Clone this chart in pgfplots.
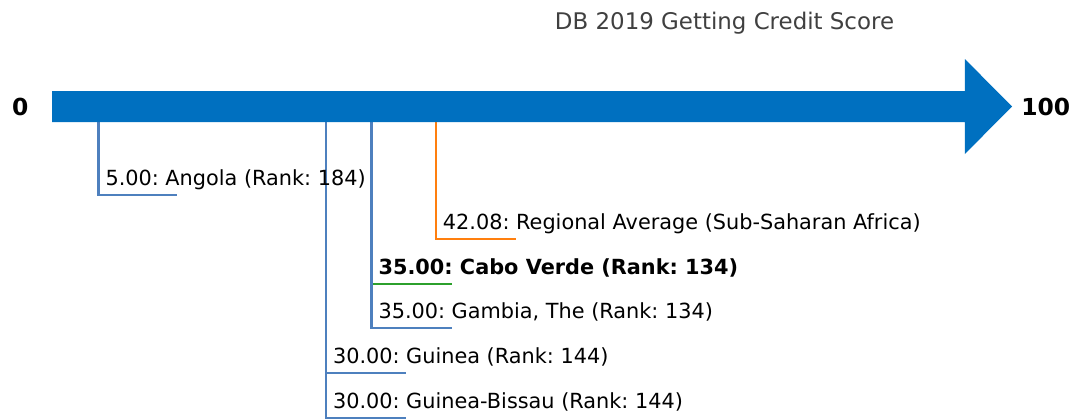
\documentclass[border=0pt]{standalone}
\usepackage{fontspec}
\setmainfont{DejaVu Sans}
\usepackage{pgfplots}
\pgfplotsset{compat=1.18}
\definecolor{barblue}{RGB}{0,112,192}
\definecolor{lineblue}{RGB}{78,128,190}
\definecolor{lineorange}{RGB}{255,127,14}
\definecolor{linegreen}{RGB}{44,160,44}
\definecolor{titlegray}{RGB}{64,64,64}
\tikzset{lbl/.style={font=\fontsize{20.9}{24}\selectfont, inner sep=0pt, anchor=base west}}
\frenchspacing
\begin{document}
\frenchspacing
\begin{tikzpicture}
\begin{axis}[
  scale only axis, width=1075bp, height=420bp,
  xmin=-5.824, xmax=112.31, ymin=0, ymax=420,
  y dir=reverse, hide axis, clip=false,
]
\path (rel axis cs:0,0) rectangle (rel axis cs:1,1);
% leader lines
\addplot[lineblue, line width=2.8bp] coordinates {(5,122) (5,195) (13.65,195)};
\addplot[lineorange, line width=2.8bp] coordinates {(42.08,122) (42.08,239) (50.88,239)};
\addplot[linegreen, line width=2.8bp] coordinates {(35,122) (35,284) (43.8,284)};
\addplot[lineblue, line width=2.8bp] coordinates {(35,122) (35,328) (43.8,328)};
\addplot[lineblue, line width=2.8bp] coordinates {(30,122) (30,373) (38.8,373)};
\addplot[lineblue, line width=2.8bp] coordinates {(30,122) (30,418) (38.8,418)};
% arrow
\addplot[fill=barblue, draw=none] coordinates {(-0.1,91) (100.2,91) (100.2,59) (105.4,106.5) (100.2,154) (100.2,122) (-0.1,122)} -- cycle;
% labels
\node[lbl] at (axis cs:5.75,185) {5.00: Angola (Rank: 184)};
\node[lbl] at (axis cs:42.83,229) {42.08: Regional Average (Sub-Saharan Africa)};
\node[lbl] at (axis cs:35.75,274) {\bfseries 35.00: Cabo Verde (Rank: 134)};
\node[lbl] at (axis cs:35.75,318) {35.00: Gambia, The (Rank: 134)};
\node[lbl] at (axis cs:30.75,363) {30.00: Guinea (Rank: 144)};
\node[lbl] at (axis cs:30.75,408) {30.00: Guinea-Bissau (Rank: 144)};
\node[anchor=center, font=\fontsize{23.5}{27}\selectfont\bfseries] at (axis cs:-3.6,106.5) {0};
\node[anchor=center, font=\fontsize{23.5}{27}\selectfont\bfseries] at (axis cs:109.1,106.5) {100};
\node[anchor=center, font=\fontsize{23}{27}\selectfont, text=titlegray] at (axis cs:73.8,23.5) {DB 2019 Getting Credit Score};
\end{axis}
\end{tikzpicture}
\end{document}
